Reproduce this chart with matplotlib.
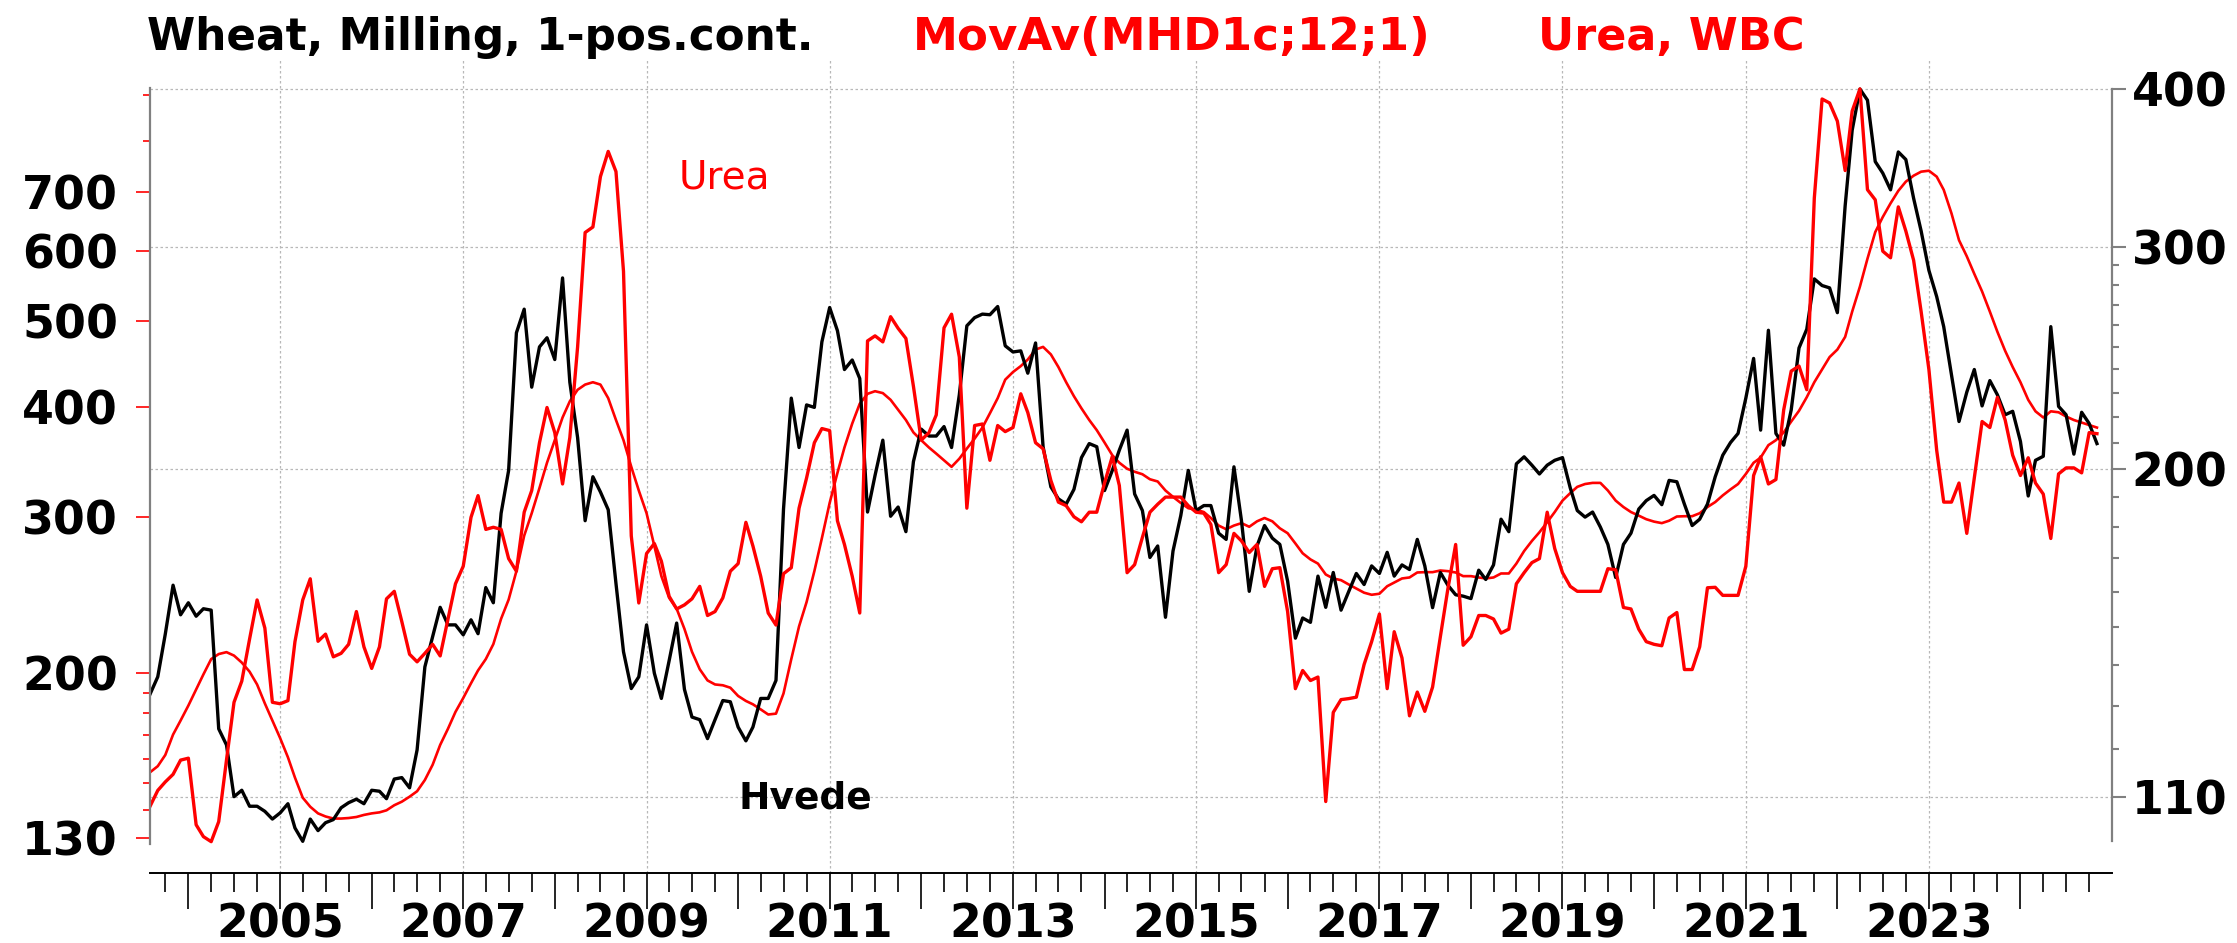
import pandas as pd
import matplotlib
matplotlib.use('Agg')
import matplotlib.pyplot as plt
import matplotlib.dates as mdates
from matplotlib.ticker import FixedLocator, FuncFormatter, NullFormatter

plt.rcParams['font.family'] = ['DejaVu Sans']
plt.rcParams['font.weight'] = 'bold'

# monthly observations, Aug 2003 - Nov 2024
months = pd.date_range('2003-08-01', periods=256, freq='MS')

# Wheat, milling, 1-pos. cont. (right axis)
wheat = [
    132.7, 137.0, 148.1, 161.9, 153.4, 156.8, 153.0, 155.1, 154.7, 124.6, 121.0, 110.1,
    111.4, 108.2, 108.2, 107.2, 105.7, 106.9, 108.7, 104.0, 101.5, 105.7, 103.5, 105.0,
    105.6, 107.9, 108.9, 109.6, 108.7, 111.4, 111.2, 109.7, 113.7, 114.0, 111.9, 119.9,
    139.5, 147.4, 155.5, 150.6, 150.6, 147.9, 152.0, 148.2,
    161.2, 156.8, 184.6, 199.6, 256.5, 267.8, 232.3, 250.0, 254.2, 244.3, 283.5, 234.4,
    211.9, 182.1, 197.3, 191.9, 185.8, 162.4, 143.4, 134.1, 137.0, 150.6, 137.9, 131.7,
    141.1, 151.1, 133.9, 127.3, 126.7, 122.4, 126.7, 131.2, 130.9, 125.0, 121.9, 125.0,
    131.7, 131.7, 136.1, 186.0, 227.7, 208.1, 224.9,
    223.9, 252.3, 268.6, 257.5, 239.9, 244.1, 236.0, 185.0, 197.8, 210.9, 183.6, 186.7,
    178.5, 202.8, 215.2, 212.5, 212.5, 216.2, 208.1, 229.1, 259.8, 263.7, 265.4, 265.1,
    269.1, 250.5, 247.7, 248.2, 238.3, 251.8, 208.4, 193.7, 189.5, 187.7, 192.8, 204.3,
    209.6, 208.4, 192.4, 199.6, 207.1, 214.8, 191.2,
    185.5, 170.3, 173.9, 152.7, 172.3, 183.8, 199.6, 185.5, 187.2, 187.2, 178.0, 176.0,
    200.9, 182.1, 160.1, 173.9, 180.5, 176.4, 174.4, 163.1, 147.0, 152.5, 151.3, 164.6,
    155.5, 165.7, 154.7, 160.1, 165.4, 162.1, 167.7, 165.4, 171.9, 164.6, 168.0, 166.6,
    176.0, 167.7, 155.4, 165.7, 161.9, 159.1, 158.7,
    158.0, 166.4, 163.6, 168.0, 182.6, 178.5, 202.0, 204.6, 201.5, 198.3, 201.5, 203.3,
    204.3, 193.3, 185.5, 183.3, 185.0, 180.0, 174.4, 164.2, 174.4, 178.0, 186.0, 188.9,
    190.7, 187.5, 196.0, 195.5, 187.7, 180.5, 182.6, 187.7, 197.3, 205.2, 210.0, 213.5,
    227.7, 244.8, 214.8, 257.7, 213.5, 209.0, 222.9, 249.5,
    258.2, 283.0, 279.6, 278.4, 266.1, 323.3, 371.1, 400.0, 392.0, 350.5, 343.2, 332.9,
    356.7, 351.8, 327.8, 308.8, 287.4, 274.0, 259.4, 237.7, 218.2, 230.2, 239.9, 224.5,
    235.1, 229.1, 220.9, 222.3, 210.4, 190.5, 203.3, 204.8, 259.4, 224.3, 220.9, 205.6,
    221.9, 217.4, 209.6,
]

# MovAv(MHD1c;12;1) - 12 month moving average of wheat (right axis)
wheat_movav = [
    115.1, 116.4, 118.8, 123.3, 126.5, 130.0, 133.9, 137.6, 141.5, 142.8, 143.3, 142.4,
    140.6, 138.3, 135.1, 130.5, 126.5, 122.5, 118.3, 114.0, 109.9, 108.1, 106.8, 106.2,
    105.8, 105.8, 105.9, 106.1, 106.5, 106.8, 107.0, 107.4, 108.4, 109.1, 110.1, 111.2,
    113.5, 116.7, 121.0, 124.6, 128.5, 131.8, 135.4, 138.6,
    141.5, 145.4, 152.3, 157.7, 166.1, 177.2, 184.6, 193.3, 202.4, 210.9, 219.8, 226.4,
    231.2, 233.4, 234.4, 233.4, 227.7, 218.8, 210.9, 200.9, 192.4, 184.6, 173.9, 164.6,
    158.2, 155.1, 149.5, 143.4, 138.9, 136.1, 135.1, 134.9, 134.3, 132.3, 131.1, 130.3,
    129.1, 127.9, 128.1, 132.9, 141.5, 150.2, 157.0,
    166.1, 176.4, 188.1, 198.7, 208.1, 217.4, 225.4, 229.5, 230.6, 229.8, 227.0, 222.9,
    218.8, 213.9, 210.9, 208.1, 205.8, 203.3, 200.9, 203.9, 207.7, 211.5, 215.8, 221.5,
    227.7, 235.5, 238.8, 241.4, 244.3, 248.8, 250.0, 246.6, 241.0, 234.4, 228.5, 223.5,
    218.8, 214.8, 210.0, 205.2, 202.4, 200.2, 199.1,
    198.2, 196.4, 195.6, 192.4, 190.2, 188.1, 186.3, 185.8, 185.0, 183.0, 180.5, 179.3,
    180.5, 181.3, 180.1, 181.9, 183.0, 181.9, 179.6, 178.0, 174.7, 171.6, 169.7, 168.4,
    165.1, 163.9, 163.4, 162.1, 160.9, 159.7, 159.1, 159.4, 161.6, 162.7, 163.9, 164.2,
    165.7, 165.8, 165.8, 166.3, 166.1, 165.7, 164.6,
    164.6, 164.2, 163.9, 164.2, 165.4, 165.4, 168.4, 172.3, 175.5, 178.3, 181.6, 185.0,
    188.9, 191.5, 193.7, 194.7, 195.1, 195.1, 192.4, 188.9, 186.7, 185.0, 183.8, 182.6,
    181.8, 181.3, 182.1, 183.5, 183.6, 183.6, 184.6, 186.7, 188.4, 190.7, 192.8, 194.7,
    198.3, 202.4, 204.3, 209.0, 210.9, 213.9, 218.2, 222.5,
    228.1, 234.4, 239.9, 245.4, 248.8, 254.6, 266.6, 279.1, 293.6, 308.2, 316.8, 324.8,
    332.3, 337.9, 341.6, 344.1, 344.7, 341.0, 332.9, 318.9, 303.7, 294.9, 285.6, 276.6,
    266.6, 257.0, 248.2, 241.0, 234.4, 227.0, 222.3, 219.8, 222.3, 221.9, 220.2, 218.8,
    217.8, 216.8, 215.8,
]

# Urea, WBC (left axis)
urea = [
    141.3, 147.3, 150.6, 153.6, 159.4, 160.2, 134.7, 130.6, 128.9, 135.8, 159.4, 185.3,
    195.8, 218.4, 241.9, 224.8, 185.3, 184.6, 186.1, 217.0, 241.9, 255.6, 217.2, 221.3,
    208.6, 210.5, 215.5, 234.7, 214.1, 202.4, 214.1, 242.6, 247.4, 228.7, 210.0, 205.9,
    210.5, 215.5, 209.1, 230.2, 252.3, 264.1, 300.0, 317.4,
    290.7, 292.3, 290.7, 269.4, 260.7, 304.0, 321.6, 364.3, 399.3, 374.0, 327.2, 369.2,
    467.5, 629.8, 638.9, 728.5, 777.9, 738.1, 569.2, 285.8, 240.0, 273.0, 280.2, 267.6,
    244.2, 236.3, 238.8, 242.6, 250.6, 232.3, 234.7, 243.2, 260.7, 265.9, 296.1, 278.4,
    257.3, 233.8, 226.6, 259.0, 263.1, 307.2, 332.4,
    364.3, 378.0, 376.0, 297.3, 279.5, 257.3, 233.8, 474.9, 481.2, 473.7, 505.8, 490.7,
    478.0, 422.0, 366.7, 374.0, 391.6, 491.4, 509.1, 455.4, 307.2, 381.0, 382.5, 348.0,
    381.0, 375.0, 379.0, 413.8, 394.1, 364.3, 358.6, 330.2, 312.1, 309.2, 300.4, 296.5,
    304.0, 304.0, 328.0, 351.6, 325.9, 259.7, 265.2,
    284.7, 304.0, 310.4, 316.2, 316.2, 316.2, 309.2, 304.0, 303.2, 294.5, 259.7, 265.2,
    287.7, 282.1, 273.7, 279.5, 250.6, 262.4, 263.1, 234.7, 192.0, 201.3, 196.1, 197.9,
    143.1, 180.5, 186.6, 187.1, 187.8, 204.5, 217.0, 233.2, 192.0, 222.7, 208.0, 178.9,
    190.3, 181.0, 192.8, 219.8, 249.0, 279.5, 215.0,
    219.8, 232.3, 232.3, 230.2, 221.9, 224.2, 252.3, 259.7, 266.6, 269.4, 304.0, 276.6,
    259.7, 250.6, 247.4, 247.4, 247.4, 247.4, 262.4, 261.7, 237.2, 236.3, 224.2, 217.0,
    215.5, 214.7, 230.8, 234.1, 201.8, 201.8, 214.1, 249.7, 250.0, 244.8, 244.8, 244.8,
    264.1, 334.5, 351.2, 327.2, 331.0, 396.8, 439.0, 444.8,
    418.2, 688.6, 891.7, 882.4, 841.7, 740.1, 864.1, 915.4, 704.1, 685.8, 599.9, 589.7,
    673.3, 632.2, 585.9, 512.5, 440.7, 357.2, 312.1, 312.1, 328.0, 287.7, 332.4, 385.0,
    379.0, 410.0, 386.5, 352.6, 334.5, 350.3, 328.0, 318.7, 283.9, 335.9, 341.2, 341.2,
    336.8, 374.0, 373.0,
]

left_major = [130, 200, 300, 400, 500, 600, 700]
left_minor = [140, 150, 160, 170, 180, 190, 800, 900]
right_major = [110, 200, 300, 400]
right_minor = [120, 130, 140, 150, 160, 170, 180, 190,
               210, 220, 230, 240, 250, 260, 270, 280, 290]
grid_years = [2005, 2007, 2009, 2011, 2013, 2015, 2017, 2019, 2021, 2023]

fig = plt.figure(figsize=(22.37, 9.43), dpi=100)
ax = fig.add_axes([0.06705, 0.07423, 0.87707, 0.86214])
axu = ax.twinx()

# wheat side (right)
ax.set_yscale('log')
ax.set_ylim(95.8, 421.8)
ax.set_xlim(pd.Timestamp('2003-08-01'), pd.Timestamp('2024-12-31'))
ax.plot(months, wheat, color='black', lw=2.4, zorder=3)
ax.plot(months, wheat_movav, color='red', lw=1.9, zorder=2)

# urea side (left)
axu.set_yscale('log')
axu.set_ylim(118.8, 987)
axu.plot(months, urea, color='red', lw=2.4)

ax.yaxis.tick_right()
axu.yaxis.tick_left()

ax.yaxis.set_major_locator(FixedLocator(right_major))
ax.yaxis.set_minor_locator(FixedLocator(right_minor))
ax.yaxis.set_major_formatter(FuncFormatter(lambda v, p: f'{v:.0f}'))
ax.yaxis.set_minor_formatter(NullFormatter())
ax.tick_params(axis='y', which='major', length=10, width=1.5, color='#808080',
               labelsize=33, pad=4)
ax.tick_params(axis='y', which='minor', length=5, width=1.5, color='#808080')

axu.yaxis.set_major_locator(FixedLocator(left_major))
axu.yaxis.set_minor_locator(FixedLocator(left_minor))
axu.yaxis.set_major_formatter(FuncFormatter(lambda v, p: f'{v:.0f}'))
axu.yaxis.set_minor_formatter(NullFormatter())
axu.tick_params(axis='y', which='major', length=10, width=1.2, color='red',
                labelcolor='black', labelsize=33, pad=13)
axu.tick_params(axis='y', which='minor', length=5, width=1.2, color='red')

# x axis: long ticks at years, short at quarters, labels on odd years
ax.xaxis.set_major_locator(mdates.YearLocator())
ax.xaxis.set_minor_locator(mdates.MonthLocator(bymonth=[4, 7, 10]))
ax.xaxis.set_major_formatter(FuncFormatter(
    lambda v, p: str(mdates.num2date(v).year) if mdates.num2date(v).year % 2 == 1 else ''))
ax.tick_params(axis='x', which='major', length=26, width=1.2, color='black',
               labelsize=33, pad=-5)
ax.tick_params(axis='x', which='minor', length=14, width=1.2, color='black')

# grid
ax.yaxis.grid(True, which='major', color='#b8b8b8', linestyle=(0, (2, 2)), lw=0.9)
for yr in grid_years:
    ax.axvline(pd.Timestamp(f'{yr}-01-01'), color='#b8b8b8', linestyle=(0, (2, 2)),
               lw=0.9, zorder=0)

# spines
for s in ['top', 'left']:
    ax.spines[s].set_visible(False)
for s in ['top', 'right', 'bottom']:
    axu.spines[s].set_visible(False)
ax.spines['right'].set_color('#808080')
ax.spines['right'].set_linewidth(1.6)
ax.spines['right'].set_bounds(101.5, 400)
ax.spines['bottom'].set_color('black')
ax.spines['bottom'].set_linewidth(1.4)
axu.spines['left'].set_color('#808080')
axu.spines['left'].set_linewidth(1.6)
axu.spines['left'].set_bounds(128, 918)

# headings and labels
fig.text(0.0657, 0.947, 'Wheat, Milling, 1-pos.cont.', fontsize=31.5,
         color='black', va='baseline')
fig.text(0.408, 0.947, 'MovAv(MHD1c;12;1)', fontsize=32.5, color='red', va='baseline')
fig.text(0.6875, 0.947, 'Urea, WBC', fontsize=32, color='red', va='baseline')
fig.text(0.3035, 0.8006, 'Urea', fontsize=28, fontweight='normal', color='red',
         va='baseline')
fig.text(0.330, 0.143, 'Hvede', fontsize=27, color='black', va='baseline')

fig.savefig('out.png', dpi=100)
